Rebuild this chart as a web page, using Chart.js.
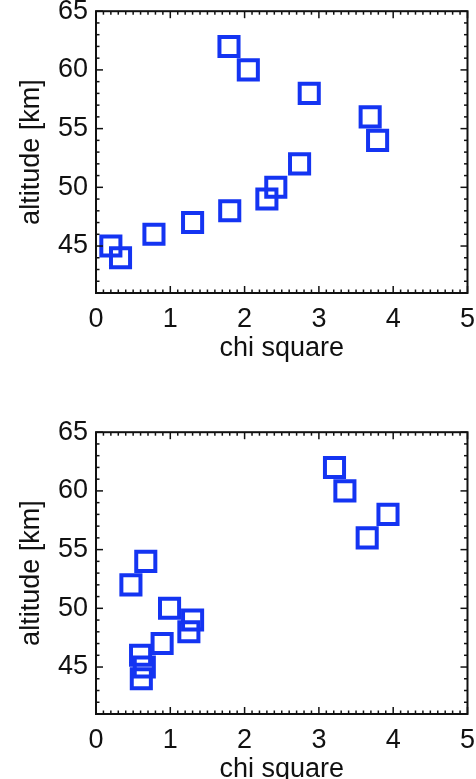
<!DOCTYPE html>
<html>
<head>
<meta charset="utf-8">
<script src="https://cdn.jsdelivr.net/npm/chart.js@4.4.1/dist/chart.umd.min.js"></script>
<style>
    html, body { margin: 0; padding: 0; background: #fff; overflow: hidden; }
    body { width: 476px; height: 779px; position: relative; }
    .panel { position: absolute; left: 0; width: 485px; height: 403px; }
</style>
</head>
<body>
<div class="panel" style="top:-13px"><canvas id="topChart" width="485" height="403"></canvas></div>
<div class="panel" style="top:408px"><canvas id="bottomChart" width="485" height="403"></canvas></div>
<script>
// altitude levels (km), same for both panels
const altitude = [44, 45, 46, 47, 48, 49, 50, 52, 54, 56, 58, 60, 62];
// chi square
const chiTop = [0.33, 0.20, 0.78, 1.30, 1.80, 2.30, 2.42, 2.74, 3.79, 3.69, 2.87, 2.05, 1.79];
const chiBottom = [0.61, 0.65, 0.60, 0.89, 1.25, 1.30, 0.99, 0.47, 0.67, 3.65, 3.93, 3.35, 3.21];

const xTicks = [0, 1, 2, 3, 4, 5];
const yTicks = [45, 50, 55, 60, 65];
const xRange = [0, 5];
const yRange = [41, 65];

const FONT = "'Liberation Sans', Arial, Helvetica, sans-serif";
const BLUE = '#1434f2';

// IDL style box with inward ticks on all four sides
const framePlugin = {
    id: 'frame',
    afterDraw(chart) {
        const { ctx, chartArea: a, scales: { x, y } } = chart;
        ctx.save();
        ctx.strokeStyle = '#111';
        ctx.lineWidth = 2;
        ctx.strokeRect(a.left, a.top, a.right - a.left, a.bottom - a.top);

        const tick = (px, py, dx, dy) => {
            ctx.beginPath();
            ctx.moveTo(px, py);
            ctx.lineTo(px + dx, py + dy);
            ctx.stroke();
        };

        ctx.lineWidth = 1.5;
        // minor every 0.1 on x, every 1 km on y
        for (let i = xRange[0] * 10; i <= xRange[1] * 10; i++) {
            const len = i % 10 === 0 ? 7 : 3.5;
            const px = x.getPixelForValue(i / 10);
            tick(px, a.bottom, 0, -len);
            tick(px, a.top, 0, len);
        }
        for (let v = yRange[0]; v <= yRange[1]; v++) {
            const len = v % 5 === 0 ? 7 : 3.5;
            const py = y.getPixelForValue(v);
            tick(a.left, py, len, 0);
            tick(a.right, py, -len, 0);
        }
        ctx.restore();
    }
};

function makeChart(id, chi) {
    const ctx = document.getElementById(id).getContext('2d');
    return new Chart(ctx, {
        type: 'scatter',
        data: {
            datasets: [{
                data: chi.map((c, i) => ({ x: c, y: altitude[i] })),
                pointStyle: 'rect',
                pointRadius: 13.5,
                pointHoverRadius: 13.5,
                borderWidth: 4,
                borderColor: BLUE,
                backgroundColor: 'rgba(0,0,0,0)'
            }]
        },
        options: {
            responsive: false,
            animation: false,
            layout: { padding: { top: 18, right: 0, bottom: 0, left: 0 } },
            plugins: {
                legend: { display: false },
                tooltip: { enabled: false }
            },
            scales: {
                x: {
                    type: 'linear',
                    min: xRange[0],
                    max: xRange[1],
                    afterBuildTicks: s => { s.ticks = xTicks.map(v => ({ value: v })); },
                    afterFit: s => { s.height = 97; },
                    grid: { display: false, drawTicks: false },
                    border: { display: false },
                    ticks: { color: '#111', padding: 10, font: { family: FONT, size: 27 } },
                    title: {
                        display: true,
                        text: 'chi square',
                        color: '#111',
                        font: { family: FONT, size: 27 },
                        padding: { top: 0, bottom: 25 }
                    }
                },
                y: {
                    type: 'linear',
                    min: yRange[0],
                    max: yRange[1],
                    afterBuildTicks: s => { s.ticks = yTicks.map(v => ({ value: v })); },
                    afterFit: s => { s.width = 96; },
                    grid: { display: false, drawTicks: false },
                    border: { display: false },
                    ticks: { color: '#111', padding: 8, font: { family: FONT, size: 27 } },
                    title: {
                        display: true,
                        text: 'altitude [km]',
                        color: '#111',
                        font: { family: FONT, size: 27 },
                        padding: { top: 15, bottom: 0 }
                    }
                }
            }
        },
        plugins: [framePlugin]
    });
}

makeChart('topChart', chiTop);
makeChart('bottomChart', chiBottom);
</script>
</body>
</html>
